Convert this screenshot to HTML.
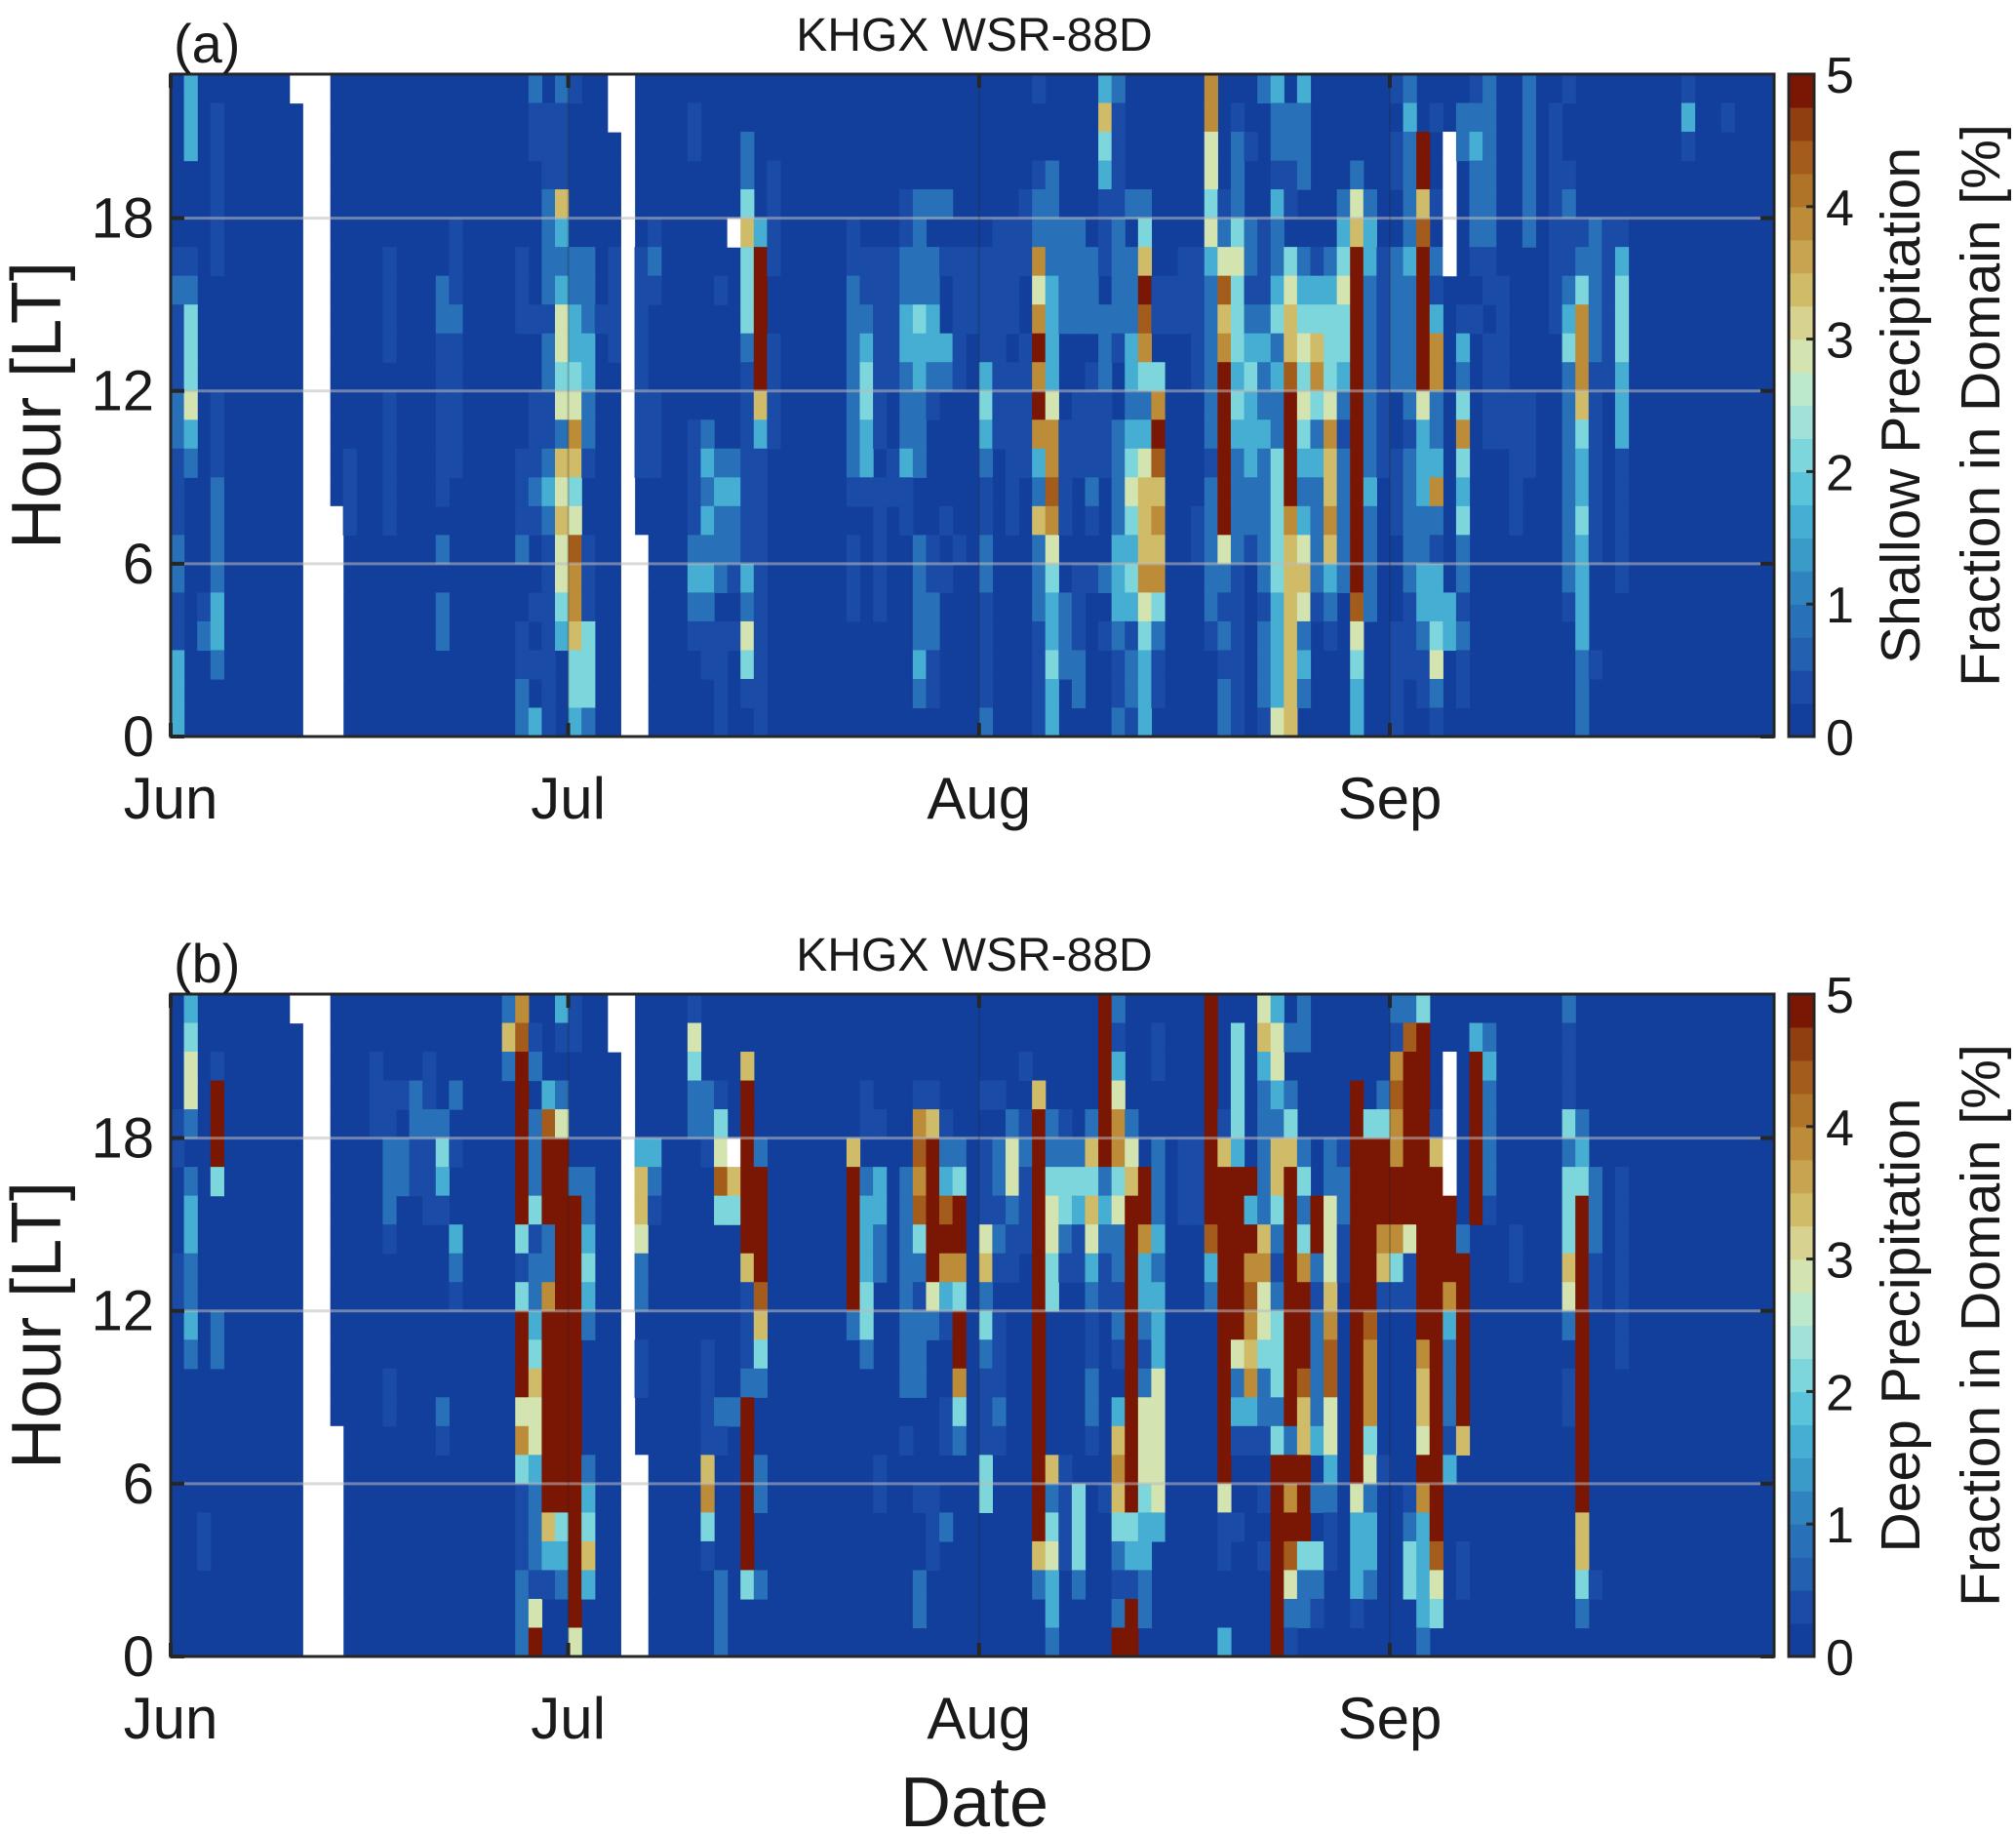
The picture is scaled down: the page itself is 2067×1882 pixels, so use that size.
<!DOCTYPE html>
<html><head><meta charset="utf-8">
<style>
html,body{margin:0;padding:0;background:#fff;}
svg{display:block;font-family:"Liberation Sans",sans-serif;}
</style></head>
<body>
<svg id="fig" width="2067" height="1882" viewBox="0 0 2067 1882" xmlns="http://www.w3.org/2000/svg"></svg>
<script>
// ---- data: rows listed top-down (hour 22 first ... hour 0 last); digit = level code, 'w' => missing
const nDays = 121;
const monthLabels = ["Jun","Jul","Aug","Sep"];
const monthStartDays = [0,30,61,92];
const hourTicks = [0,6,12,18];
const cbarTicks = [0,1,2,3,4,5];
const levelValues = [0,0.3,0.8,1.6,2.1,2.8,3.3,3.8,4.4,5];
const W = "wwwwwwwwwwwwwwwwwwwwwww";
const shallowDays = [0,1,2,3,9,10,11,12,13,16,20,21,26,27,28,29,30,31,32,33,34,35,36,39,40,41,42,43,44,45,51,52,53,54,55,56,57,58,59,60,61,62,63,64,65,66,67,68,69,70,71,72,73,74,75,76,77,78,79,80,81,82,83,84,85,86,87,88,89,90,91,92,93,94,95,96,97,98,99,100,101,102,104,105,106,107,108,109,114,117];
const shallowCols = ["00000012111221112211333","33300012444532000000000","00000000000000000012000","01111110000111222233200","w0000000000000000000000",W,W,"000000000000000wwwwwwww","00000000000001110000000","00000011110111110000000","00000002211111102022000","00000111211111000000000","00000011100001112001122","21100000100111210010103","01112222122112321111111","21116323554526565543000","10000022334576458776443","00000022233221001114442","00000000100000000000000","ww000011110000000000000",W,"0000001111111100wwwwwww","00000121000111000000000","01100000000011112321000","00000000000023232321100","00000001000002322201111","00000w00000002322101000","00224644421111111325410","00000399999631111111111","00011110011110000000000","00000112222222101110000","00000011234433100000000","00000011111110111110000","00000011111001100000000","00001122332223110000000","00002222433222002222320","00002022332100001122110","00002010032000010100000","00000011111000001000000","00000011100000000000000","00000011113432112211112","00000111111110000000000","00000111101111110000000","00001110011111000000000","10012275797973262221111","00022223333577875433433","00000222200011110022200","00000222200111000111220","00000022201111210100000","36431110222111000201000","21111222210022223332112","00002022233234543431221","00002469874235666754333","00000001104798676742110","00000001100000000000000","00000011100000000000000","00000011111000011000000","77554532222221222221000","00001258679999995212122","01222454443432222111111","00100221234333221000000","20000111232232222212221","32213223423224444433335","02211045668999976666666","32220023454543235652320","00000013467423222210000","00000023444576676321000","00002345443212222200000","00025699999999999985433","00002332222222322220000","00000011111111000000000","10110022222001110001111","23222232222212222211100","00996899999533322332110","01001021377223721334521","00wwwww0000000000033000","02200000132474342212110","12322210100000000000000","22222211011110000000000","00000001111110000000000","00000000000111110000000","22222200000111000000000","01111111100000000000000","10012112342222222210000","00000124777643343333222","00000222221111111000100","00000111111000000000000","00000134443331111100000","13100000000000000000000","01000000000000000000000"];
const deepDays = [0,1,2,3,9,10,11,12,15,16,17,18,19,20,21,25,26,27,28,29,30,31,33,34,35,36,39,40,41,42,43,44,51,52,53,55,56,57,58,59,61,62,63,64,65,66,67,68,69,70,71,72,73,74,76,77,78,79,80,81,82,83,84,85,86,87,88,89,90,91,92,93,94,95,96,97,98,99,101,105,106,107,109];
const deepCols = ["00001100011000000000000","34552023322320000000000","00000000000000000011000","00199940000220000000000","w0000000000000000000000",W,W,"000000000000000wwwwwwww","00111000000000000000000","00011222100001100000000","00010220000000000000000","00022110000000000000000","00112111000000000000000","00002431000000210000000","00020100321000000000000","26200000000000000000000","78999999414999574111222","01202224122346553222159","00038999227999999963100","31025999999999999943200","11000029999999999999995","00000022343200002346300","ww000000000000000000000",W,"0000036652201100wwwwwww","00000321000000000000000","15422000000000000000000","00022100000011116741000","00014584000000210000222","00000w64000000200000000","00699999961112999999400","00000299998642002200200","00000699999200000000000","00011023334420000000000","00001033220000001100000","00000022222222010000000","00017878421222000100220","00016999995200000111000","00001238973100110020000","00000249974997420000000","00010111562421114400000","00010221210111210000000","00002552110000000000000","00101211100000000000000","00069999999999999996200","00002245544000006245332","00001244210000001111000","00000243110000000444200","00002646532112210000000","99999923211000000100000","21357745221210367642129","00002569999999999943199","00000099733212555433220","01100222323335555530000","00000111000000000000000","00000111000000000000000","99999999832000000000000","00001699999999999511003","04444399999952310010000","00000093978767310000000","56322222675542210101000","35532664212444249999999","02024699999999929798521","22000242479998669994220","00000009921222230204210","00000225556788553211000","00000122110000000000000","00099999999999999533310","00004999999877745233200","00024999761000001000000","21787799741000000000000","28999999511000000124400","49999999999976659733332","00001699999999999998540","00wwwww9997322213000000","00000000299999960001100","03999999000000000000000","02322221000000000000000","00000000110000000000000","21114244465201100000000","00002349999999999966420","00000022211000000000100","00000011111110000000000"];

// ---- layout
const L=175, R=1819, NH=23;
const panels=[{top:76,bot:755,days:shallowDays,cols:shallowCols,tag:"(a)",lab1:"Shallow Precipitation",name:"shallow"},
              {top:1019,bot:1698,days:deepDays,cols:deepCols,tag:"(b)",lab1:"Deep Precipitation",name:"deep"}];
const CBL=1834, CBR=1860;
const cmap=["#133f9c","#1a4ba6","#2360b0","#2870b8","#2f84c0","#3a9ac8","#45aed2","#5cc4da","#7dd6dc","#a0e2da","#bce8cc","#d4e4b0","#d8d290","#d0bc68","#c8a450","#bc8c38","#b07428","#a45c1c","#904010","#7a1604"];
function colorOf(v){let i=Math.floor(v/0.25);if(i<0)i=0;if(i>19)i=19;return cmap[i];}
const svg=document.getElementById('fig');
const NS="http://www.w3.org/2000/svg";
function el(tag,attrs,parent){const e=document.createElementNS(NS,tag);for(const k in attrs)e.setAttribute(k,attrs[k]);(parent||svg).appendChild(e);return e;}
const dayW=(R-L)/nDays;
function xDay(d){return L+d*dayW;}

panels.forEach((p,pi)=>{
  const H=p.bot-p.top;
  const yHour=h=>p.bot-h*H/NH;
  const g=el('g',{});
  
  
  const bg=el('rect',{x:L,y:p.top,width:R-L,height:H,fill:cmap[0]},g);
  
  
  p.days.forEach((d,j)=>{
    const s=p.cols[j];
    for(let r=0;r<NH;r++){
      const c=s[r]||'0';
      const hour=NH-1-r;
      let fill;
      if(c==='w') fill='#ffffff';
      else { const v=levelValues[parseInt(c)]; if(v===0) continue; fill=colorOf(v); }
      const rc=el('rect',{x:xDay(d),y:yHour(hour+1),width:dayW+0.6,height:H/NH+0.6,fill:fill},g);
      
      
    }
  });
  hourTicks.slice(1).forEach(h=>{
    const gl=el('line',{x1:L,x2:R,y1:yHour(h),y2:yHour(h),stroke:'#bbbbbb','stroke-opacity':0.55,'stroke-width':3},g);
    
    
  });
  monthStartDays.slice(1).forEach(d=>{
    const gl=el('line',{x1:xDay(d),x2:xDay(d),y1:p.top,y2:p.bot,stroke:'#222','stroke-opacity':0.25,'stroke-width':2},g);
    
    
  });
  const box=el('rect',{x:L,y:p.top,width:R-L,height:H,fill:'none',stroke:'#262626','stroke-width':3},g);
  
  
  hourTicks.forEach(h=>{
    const y=yHour(h);
    el('line',{x1:L,x2:L+14,y1:y,y2:y,stroke:'#262626','stroke-width':4},g);
    el('line',{x1:R-14,x2:R,y1:y,y2:y,stroke:'#262626','stroke-width':4},g);
    const t=el('text',{x:158,y:y+20,'text-anchor':'end','font-size':58,fill:'#1a1a1a'},g);
    t.textContent=h;
    
    
  });
  monthStartDays.forEach((d,i)=>{
    const x=xDay(d);
    el('line',{x1:x,x2:x,y1:p.bot-14,y2:p.bot,stroke:'#262626','stroke-width':4},g);
    el('line',{x1:x,x2:x,y1:p.top,y2:p.top+14,stroke:'#262626','stroke-width':4},g);
    const t=el('text',{x:x,y:p.bot+84,'text-anchor':'middle','font-size':60,fill:'#1a1a1a'},g);
    t.textContent=monthLabels[i];
    
    
  });
  const tt=el('text',{x:999,y:p.top-24,'text-anchor':'middle','font-size':48,fill:'#1a1a1a'},g);
  tt.textContent='KHGX WSR-88D';
  
  
  const tg=el('text',{x:178,y:p.top-12,'font-size':56,fill:'#1a1a1a'},g);
  tg.textContent=p.tag;
  
  
  const yl=el('text',{x:0,y:0,'text-anchor':'middle','font-size':72,fill:'#1a1a1a',transform:`translate(62,${(p.top+p.bot)/2}) rotate(-90)`},g);
  yl.textContent='Hour [LT]';
  
  
  const cb=el('g',{},g);
  
  
  for(let i=0;i<20;i++){
    const y0=p.bot-(i+1)*H/20;
    el('rect',{x:CBL,y:y0,width:CBR-CBL,height:H/20+0.6,fill:cmap[i]},cb);
  }
  el('rect',{x:CBL,y:p.top,width:CBR-CBL,height:H,fill:'none',stroke:'#262626','stroke-width':3},cb);
  cbarTicks.forEach(v=>{
    const y=p.bot-v*H/5;
    el('line',{x1:CBR-8,x2:CBR,y1:y,y2:y,stroke:'#262626','stroke-width':3},cb);
    const t=el('text',{x:1872,y:y+19,'font-size':52,fill:'#1a1a1a'},cb);
    t.textContent=v;
    
    
  });
  const c1=el('text',{x:0,y:0,'text-anchor':'middle','font-size':57,fill:'#1a1a1a',transform:`translate(1968,${(p.top+p.bot)/2}) rotate(-90)`},g);
  c1.textContent=p.lab1;
  
  
  const c2=el('text',{x:0,y:0,'text-anchor':'middle','font-size':57,fill:'#1a1a1a',transform:`translate(2050,${(p.top+p.bot)/2}) rotate(-90)`},g);
  c2.textContent='Fraction in Domain [%]';
  
  
});
const xt=el('text',{x:999,y:1872,'text-anchor':'middle','font-size':72,fill:'#1a1a1a'});
xt.textContent='Date';


</script>
</body></html>
